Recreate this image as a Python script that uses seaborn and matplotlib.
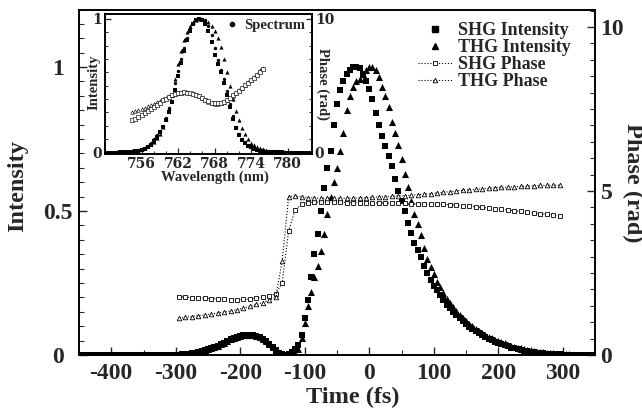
import numpy as np
import matplotlib
matplotlib.use("Agg")
import matplotlib.pyplot as plt
import seaborn as sns
from matplotlib.lines import Line2D
from matplotlib.ticker import MultipleLocator

# ---------------- data ----------------
# main plot: time grid starts at -450 fs, step 5 fs
t_start, t_step = -450, 5
shg_intensity = [0.0] * 30 + [
    0.000, 0.001, 0.002, 0.003, 0.004, 0.006, 0.008, 0.010, 0.013, 0.016,
    0.020, 0.024, 0.028, 0.032, 0.037, 0.043, 0.049, 0.054, 0.059, 0.063,
    0.066, 0.069, 0.070, 0.070, 0.069, 0.066, 0.062, 0.055, 0.047, 0.037,
    0.027, 0.017, 0.008, 0.003, 0.000, 0.003, 0.010, 0.020, 0.035, 0.070,
    0.130, 0.190, 0.270, 0.350, 0.420, 0.500, 0.580, 0.650, 0.710, 0.800,
    0.870, 0.920, 0.950, 0.975, 0.990, 1.000, 1.000, 0.995, 0.975, 0.950,
    0.925, 0.890, 0.840, 0.800, 0.760, 0.725, 0.690, 0.655, 0.610, 0.570,
    0.535, 0.500, 0.460, 0.425, 0.390, 0.365, 0.340, 0.310, 0.285, 0.260,
    0.240, 0.225, 0.210, 0.190, 0.175, 0.163, 0.150, 0.138, 0.127, 0.117,
    0.107, 0.098, 0.090, 0.082, 0.075, 0.068, 0.062, 0.056, 0.051, 0.046,
    0.042, 0.037, 0.033, 0.030, 0.026, 0.023, 0.020, 0.018, 0.015, 0.013,
    0.011, 0.010, 0.008, 0.007, 0.006, 0.005, 0.004, 0.003, 0.002, 0.002,
    0.001, 0.001, 0.001, 0.000, 0.000, 0.000, 0.000, 0.000, 0.000, 0.000,
    0.000]
thg_intensity = [0.0] * 30 + [
    0.000, 0.001, 0.002, 0.003, 0.004, 0.006, 0.008, 0.010, 0.013, 0.016,
    0.020, 0.024, 0.028, 0.032, 0.037, 0.043, 0.049, 0.054, 0.059, 0.063,
    0.066, 0.069, 0.070, 0.070, 0.069, 0.066, 0.062, 0.055, 0.047, 0.037,
    0.027, 0.017, 0.008, 0.003, 0.000, 0.002, 0.005, 0.008, 0.020, 0.060,
    0.110, 0.170, 0.220, 0.270, 0.310, 0.360, 0.420, 0.490, 0.550, 0.600,
    0.650, 0.710, 0.770, 0.850, 0.900, 0.930, 0.950, 0.960, 0.975, 0.990,
    1.000, 1.000, 0.990, 0.965, 0.930, 0.900, 0.860, 0.810, 0.770, 0.730,
    0.680, 0.630, 0.585, 0.535, 0.490, 0.455, 0.415, 0.370, 0.335, 0.305,
    0.280, 0.255, 0.235, 0.215, 0.195, 0.180, 0.165, 0.152, 0.140, 0.128,
    0.118, 0.108, 0.099, 0.091, 0.083, 0.076, 0.070, 0.064, 0.058, 0.053,
    0.048, 0.044, 0.040, 0.036, 0.032, 0.029, 0.026, 0.023, 0.020, 0.018,
    0.016, 0.014, 0.012, 0.010, 0.009, 0.008, 0.007, 0.006, 0.005, 0.004,
    0.003, 0.002, 0.002, 0.001, 0.001, 0.001, 0.001, 0.000, 0.000, 0.000,
    0.000]

# phase grid starts at -295 fs, step 10 fs
p_start, p_step = -295, 10
shg_phase = [
    1.78, 1.76, 1.75, 1.74, 1.73, 1.72, 1.71, 1.70, 1.69, 1.69,
    1.70, 1.71, 1.73, 1.76, 1.80, 1.86, 2.20, 3.78, 4.42, 4.60,
    4.65, 4.66, 4.66, 4.66, 4.66, 4.66, 4.65, 4.65, 4.65, 4.64,
    4.64, 4.64, 4.63, 4.63, 4.62, 4.62, 4.61, 4.61, 4.60, 4.60,
    4.60, 4.59, 4.58, 4.57, 4.55, 4.54, 4.52, 4.50, 4.48, 4.46,
    4.44, 4.42, 4.40, 4.38, 4.36, 4.33, 4.31, 4.29, 4.27, 4.25]
thg_phase = [
    1.12, 1.15, 1.17, 1.20, 1.22, 1.25, 1.28, 1.31, 1.34, 1.38,
    1.43, 1.48, 1.54, 1.60, 1.67, 1.76, 2.87, 4.83, 4.85, 4.82,
    4.80, 4.79, 4.78, 4.78, 4.78, 4.78, 4.78, 4.79, 4.79, 4.80,
    4.81, 4.82, 4.83, 4.84, 4.85, 4.86, 4.87, 4.89, 4.90, 4.92,
    4.94, 4.96, 4.98, 5.00, 5.02, 5.04, 5.05, 5.07, 5.08, 5.10,
    5.11, 5.12, 5.13, 5.14, 5.15, 5.16, 5.17, 5.17, 5.18, 5.18]

# inset: wavelength grid starts at 750 nm, step 0.5 nm
w_start, w_step = 750.0, 0.5
spectrum = [
    0, 0, 0, 0, 0.001, 0.002, 0.003, 0.004, 0.006, 0.009,
    0.013, 0.018, 0.025, 0.035, 0.05, 0.07, 0.10, 0.13, 0.16, 0.20,
    0.26, 0.33, 0.42, 0.52, 0.61, 0.70, 0.78, 0.86, 0.93, 0.97,
    0.99, 1.0, 1.0, 0.99, 0.95, 0.88, 0.78, 0.69, 0.62, 0.55,
    0.46, 0.36, 0.27, 0.19, 0.14, 0.105, 0.08, 0.06, 0.045, 0.034,
    0.025, 0.018, 0.013, 0.009, 0.006, 0.004, 0.003, 0.002, 0.001, 0.001,
    0, 0, 0, 0, 0, 0, 0, 0, 0]
shg_spec = [
    0, 0, 0, 0, 0, 0.001, 0.002, 0.003, 0.005, 0.007,
    0.010, 0.015, 0.021, 0.03, 0.043, 0.06, 0.085, 0.115, 0.15, 0.19,
    0.24, 0.30, 0.38, 0.47, 0.57, 0.67, 0.76, 0.84, 0.91, 0.96,
    0.99, 1.0, 0.99, 0.96, 0.91, 0.83, 0.73, 0.66, 0.60, 0.52,
    0.43, 0.34, 0.25, 0.18, 0.13, 0.095, 0.07, 0.052, 0.038, 0.028,
    0.02, 0.014, 0.01, 0.007, 0.005, 0.003, 0.002, 0.001, 0.001, 0,
    0, 0, 0, 0, 0, 0, 0, 0, 0]
thg_spec = [
    0, 0, 0, 0, 0.001, 0.002, 0.003, 0.004, 0.006, 0.009,
    0.013, 0.018, 0.025, 0.034, 0.046, 0.062, 0.082, 0.11, 0.14, 0.19,
    0.25, 0.33, 0.43, 0.55, 0.66, 0.76, 0.84, 0.90, 0.95, 0.98,
    0.995, 1.0, 1.0, 0.995, 0.98, 0.95, 0.91, 0.86, 0.79, 0.70,
    0.60, 0.50, 0.40, 0.31, 0.24, 0.18, 0.135, 0.10, 0.075, 0.056,
    0.042, 0.031, 0.023, 0.017, 0.012, 0.008, 0.006, 0.004, 0.003, 0.002,
    0.001, 0.001, 0, 0, 0, 0, 0, 0, 0]

# inset phase: grid starts at 754.5 nm, step 0.5 nm
wp_start, wp_step = 754.5, 0.5
thg_spec_phase = [
    3.05, 3.10, 3.18, 3.27, 3.36, 3.46, 3.56, 3.66, 3.77, 3.88,
    3.99, 4.10, 4.20, 4.30, 4.38, 4.45, 4.49, 4.51, 4.50, 4.47,
    4.42, 4.33, 4.20, 4.07, 3.93, 3.80, 3.70, 3.64, 3.63, 3.68,
    3.78, 3.92, 4.08, 4.26, 4.45, 4.65, 4.85, 5.05, 5.25, 5.45,
    5.65, 5.90, 6.15, 6.35]
shg_spec_phase = [
    2.40, 2.52, 2.65, 2.80, 2.95, 3.10, 3.25, 3.42, 3.58, 3.74,
    3.90, 4.04, 4.17, 4.28, 4.37, 4.44, 4.48, 4.50, 4.49, 4.46,
    4.41, 4.33, 4.21, 4.08, 3.95, 3.83, 3.74, 3.69, 3.68, 3.72,
    3.82, 3.95, 4.10, 4.27, 4.45, 4.63, 4.82, 5.02, 5.20, 5.40,
    5.60, 5.82, 6.05, 6.25]

x_ticks = [-400, -300, -200, -100, 0, 100, 200, 300]
inset_x_ticks = [756, 762, 768, 774, 780]

# ---------------- style ----------------
sns.set_theme(style="ticks")
plt.rcParams['font.family'] = ['Liberation Serif', 'DejaVu Serif']
plt.rcParams['font.weight'] = 'bold'
plt.rcParams['axes.labelweight'] = 'bold'
plt.rcParams['axes.unicode_minus'] = False
plt.rcParams['xtick.direction'] = 'in'
plt.rcParams['ytick.direction'] = 'in'
plt.rcParams['axes.linewidth'] = 1.2
plt.rcParams['axes.edgecolor'] = 'black'

t = t_start + t_step * np.arange(len(shg_intensity))
t3 = t_start + t_step * np.arange(len(thg_intensity))
tp = p_start + p_step * np.arange(len(shg_phase))
tp3 = p_start + p_step * np.arange(len(thg_phase))
wl = w_start + w_step * np.arange(len(spectrum))
wl2 = w_start + w_step * np.arange(len(shg_spec))
wl3 = w_start + w_step * np.arange(len(thg_spec))
wlp3 = wp_start + wp_step * np.arange(len(thg_spec_phase))
wlp2 = wp_start + wp_step * np.arange(len(shg_spec_phase))

fig = plt.figure(figsize=(6.42, 4.12), dpi=100)
ax = fig.add_axes([79 / 642, 57 / 412, 516 / 642, 345 / 412])
ax2 = ax.twinx()

sns.scatterplot(x=t3, y=thg_intensity, marker='^', s=26, color='black',
                linewidth=0, ax=ax, zorder=3, legend=False)
sns.scatterplot(x=t, y=shg_intensity, marker='s', s=18, color='black',
                linewidth=0, ax=ax, zorder=3, legend=False)

line_kw = dict(color='black', linestyle=':', linewidth=0.8, markersize=3.3,
               markerfacecolor='white', markeredgecolor='black',
               markeredgewidth=0.6, errorbar=None, sort=False)
sns.lineplot(x=tp, y=shg_phase, marker='s', ax=ax2, **line_kw)
sns.lineplot(x=tp3, y=thg_phase, marker='^', ax=ax2, **line_kw)

ax.set_xlim(-450, 350)
ax.set_ylim(0, 1.198)
ax2.set_ylim(0, 10.52)

ax.set_xticks(x_ticks)
ax.set_xticklabels([str(v) for v in x_ticks])
ax.xaxis.set_minor_locator(MultipleLocator(50))
ax.set_yticks([0, 0.5, 1])
ax.set_yticklabels(['0', '0.5', '1'])
ax.yaxis.set_minor_locator(MultipleLocator(0.05))
ax2.set_yticks([0, 5, 10])
ax2.set_yticklabels(['0', '5', '10'])
ax2.yaxis.set_minor_locator(MultipleLocator(0.5))

ax.tick_params(axis='both', which='major', length=6, width=1, labelsize=17,
               right=False, top=False)
ax.tick_params(axis='both', which='minor', length=3.5, width=0.8,
               right=False, top=False)
ax.tick_params(axis='x', pad=6)
ax.tick_params(axis='y', pad=15)
for lab in ax.get_yticklabels():
    lab.set_horizontalalignment('center')
ax2.tick_params(axis='y', which='major', length=6, width=1, labelsize=17, pad=4)
ax2.tick_params(axis='y', which='minor', length=3.5, width=0.8)

ax.set_xlabel('Time (fs)', fontsize=17.5, fontweight='bold')
ax.xaxis.set_label_coords(0.531, -0.092)
ax.set_ylabel('Intensity', fontsize=17.5, fontweight='bold')
ax.yaxis.set_label_coords(-0.099, 0.49)
ax2.set_ylabel('Phase (rad)', fontsize=17.5, fontweight='bold',
               rotation=270, va='center')
ax2.yaxis.set_label_coords(1.072, 0.5)

handles = [
    Line2D([], [], marker='s', linestyle='none', color='black', markersize=4.2),
    Line2D([], [], marker='^', linestyle='none', color='black', markersize=4.8),
    Line2D([], [], marker='s', linestyle=':', color='black', linewidth=0.8,
           markersize=3.3, markerfacecolor='white', markeredgewidth=0.6),
    Line2D([], [], marker='^', linestyle=':', color='black', linewidth=0.8,
           markersize=3.3, markerfacecolor='white', markeredgewidth=0.6),
]
labels = ['SHG Intensity', 'THG Intensity', 'SHG Phase', 'THG Phase']
ax2.legend(handles, labels, loc='upper left',
           bbox_to_anchor=(418 / 642, 1 - 22 / 412),
           bbox_transform=fig.transFigure, frameon=False, borderpad=0,
           borderaxespad=0, handlelength=1.9, handletextpad=0.3,
           labelspacing=0.0, prop={'family': 'Liberation Serif',
                                   'weight': 'bold', 'size': 13})

# ---------------- inset ----------------
axi = fig.add_axes([105 / 642, (412 - 154) / 412, 207 / 642, 140 / 412])
axi.set_facecolor('white')
axi2 = axi.twinx()

sns.scatterplot(x=wl3, y=thg_spec, marker='^', s=9, color='black',
                linewidth=0, ax=axi, legend=False)
sns.scatterplot(x=wl2, y=shg_spec, marker='s', s=6, color='black',
                linewidth=0, ax=axi, legend=False)
sns.scatterplot(x=wl, y=spectrum, marker='o', s=6, color='black',
                linewidth=0, ax=axi, legend=False)

in_kw = dict(color='black', linestyle='none', markersize=2.5,
             markerfacecolor='white', markeredgecolor='black',
             markeredgewidth=0.45, errorbar=None, sort=False)
sns.lineplot(x=wlp3, y=thg_spec_phase, marker='^', ax=axi2, **in_kw)
sns.lineplot(x=wlp2, y=shg_spec_phase, marker='s', ax=axi2, **in_kw)

axi.set_xlim(750, 784)
axi.set_ylim(-0.011, 1.037)
axi2.set_ylim(-0.11, 10.37)
axi.set_xticks(inset_x_ticks)
axi.set_xticklabels([str(v) for v in inset_x_ticks])
axi.xaxis.set_minor_locator(MultipleLocator(2))
axi.set_yticks([0, 1])
axi.set_yticklabels(['0', '1'])
axi.yaxis.set_minor_locator(MultipleLocator(0.1))
axi2.set_yticks([0, 10])
axi2.set_yticklabels(['0', '10'])
axi2.yaxis.set_minor_locator(MultipleLocator(1))

tick_font = {'family': 'DejaVu Serif', 'weight': 'bold', 'size': 10}
axi.tick_params(axis='both', which='major', length=4, width=0.9,
                right=False, top=False, pad=2)
axi.tick_params(axis='both', which='minor', length=2.5, width=0.7,
                right=False, top=False)
axi2.tick_params(axis='y', which='major', length=4, width=0.9, pad=2)
axi2.tick_params(axis='y', which='minor', length=2.5, width=0.7)
for lab in axi.get_xticklabels() + axi.get_yticklabels() + axi2.get_yticklabels():
    lab.set_fontproperties(tick_font)

axi.set_xlabel('Wavelength (nm)', fontsize=10.5, fontweight='bold')
axi.xaxis.set_label_coords(0.53, -0.12)
axi.set_ylabel('Intensity', fontsize=10.5, fontweight='bold')
axi.yaxis.set_label_coords(-0.024, 0.51)
axi2.set_ylabel('Phase (rad)', fontsize=10.5, fontweight='bold',
                rotation=270, va='center')
axi2.yaxis.set_label_coords(1.053, 0.5)

spec_handle = [Line2D([], [], marker='o', linestyle='none', color='black',
                      markersize=3)]
axi2.legend(spec_handle, ['Spectrum'], loc='upper right',
            bbox_to_anchor=(0.966, 0.964), frameon=False, borderpad=0,
            borderaxespad=0, handlelength=0.8, handletextpad=0.4,
            prop={'family': 'Liberation Serif', 'weight': 'bold', 'size': 10.5})

fig.savefig('out.png', dpi=100)
